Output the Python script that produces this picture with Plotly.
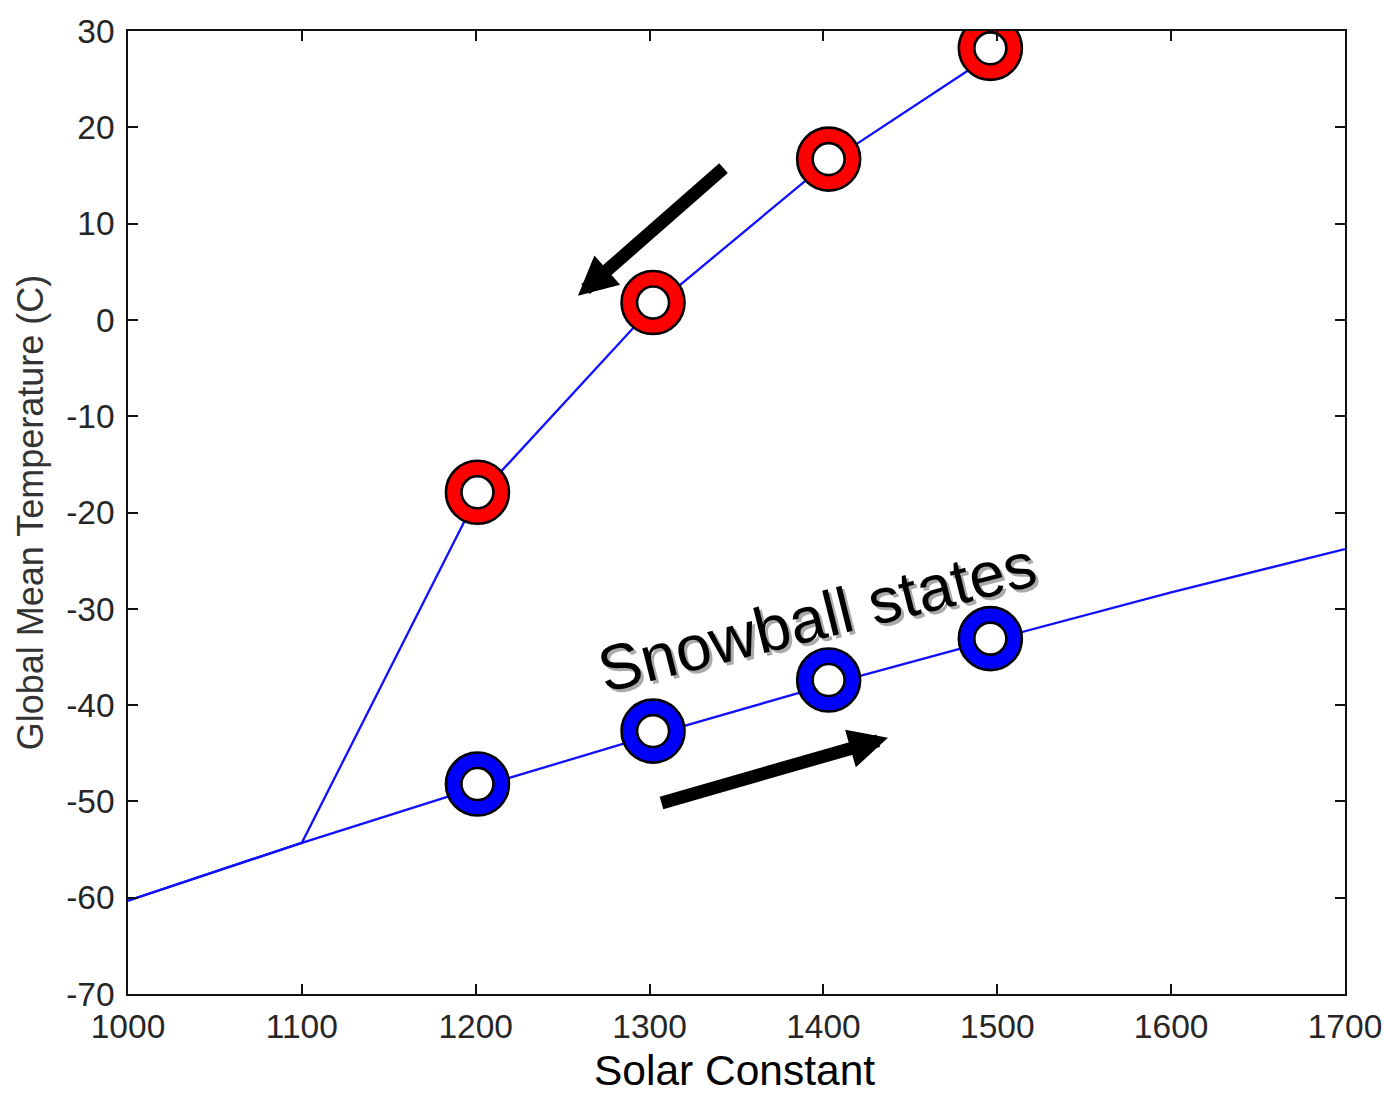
import plotly.graph_objects as go

# Energy-balance model: global mean temperature vs solar constant
solar_cold = [1000, 1100, 1200, 1300, 1400, 1500, 1600, 1700]
temp_cold = [-60.3, -54.3, -48.6, -43.2, -38.0, -33.1, -28.3, -23.8]

solar_warm = [1000, 1100, 1200, 1300, 1400, 1500]
temp_warm = [-60.3, -54.3, -18.6, 1.0, 16.0, 27.9]

# highlighted equilibrium states
warm_state_x = [1201, 1302, 1403, 1496]
warm_state_y = [-17.9, 1.8, 16.7, 28.2]
snow_state_x = [1201, 1302, 1403, 1496]
snow_state_y = [-48.2, -42.7, -37.4, -33.1]

x_ticks = [1000, 1100, 1200, 1300, 1400, 1500, 1600, 1700]
y_ticks = [30, 20, 10, 0, -10, -20, -30, -40, -50, -60, -70]

LINE_BLUE = "#1010ff"
FONT = "Liberation Sans, Arial, sans-serif"

fig = go.Figure()

fig.add_trace(go.Scatter(x=solar_cold, y=temp_cold, mode="lines",
                         line=dict(color=LINE_BLUE, width=2.3), hoverinfo="skip"))
fig.add_trace(go.Scatter(x=solar_warm, y=temp_warm, mode="lines",
                         line=dict(color=LINE_BLUE, width=2.3), hoverinfo="skip"))


def ring(xs, ys, color):
    # filled disc plus white hole gives a thick ring marker
    fig.add_trace(go.Scatter(x=xs, y=ys, mode="markers", hoverinfo="skip",
                             marker=dict(size=63, color=color,
                                         line=dict(color="black", width=2.6))))
    fig.add_trace(go.Scatter(x=xs, y=ys, mode="markers", hoverinfo="skip",
                             marker=dict(size=32, color="white",
                                         line=dict(color="black", width=2.6))))


ring(warm_state_x, warm_state_y, "#ff0000")
ring(snow_state_x, snow_state_y, "#0000ff")

# hysteresis arrows
arrow_common = dict(showarrow=True, arrowhead=2, arrowsize=0.6, arrowwidth=13,
                    arrowcolor="black", axref="x", ayref="y", text="", standoff=0)
fig.add_annotation(x=1258.8, y=2.5, ax=1343.4, ay=15.9, **arrow_common)
fig.add_annotation(x=1437.1, y=-43.4, ax=1306.0, ay=-50.2, **arrow_common)

# label with drop shadow
label_font = dict(family=FONT, size=64)
fig.add_annotation(x=1396.5, y=-30.9, text="Snowball states", showarrow=False,
                   textangle=-14, xshift=3, yshift=-3,
                   font=dict(color="#aaaaaa", **label_font))
fig.add_annotation(x=1396.5, y=-30.9, text="Snowball states", showarrow=False,
                   textangle=-14, font=dict(color="black", **label_font))

# x-axis title placed below the tick labels
fig.add_annotation(xref="paper", yref="paper", x=0.498, y=-0.079,
                   xanchor="center", yanchor="middle", showarrow=False,
                   text="Solar Constant", borderpad=0,
                   font=dict(family=FONT, size=42.5, color="black"))

axis_common = dict(showline=True, linecolor="#111111", linewidth=1.5, mirror="ticks",
                   ticks="inside", ticklen=10, tickwidth=1.5, tickcolor="#111111",
                   showgrid=False, zeroline=False, automargin=False,
                   tickfont=dict(family=FONT, size=33.5, color="#262626"))

fig.update_xaxes(range=[1000, 1700], tickvals=x_ticks,
                 ticktext=[str(v) for v in x_ticks], ticklabelstandoff=2,
                 **axis_common)
fig.update_yaxes(range=[-70, 30], tickvals=y_ticks,
                 ticktext=[str(v) for v in y_ticks], ticklabelstandoff=5,
                 title=dict(text="Global Mean Temperature (C)", standoff=12,
                            font=dict(family=FONT, size=36, color="#333333")),
                 **axis_common)

fig.update_layout(width=1384, height=1095, showlegend=False,
                  margin=dict(l=128, r=39, t=31, b=101),
                  paper_bgcolor="white", plot_bgcolor="white")

fig.write_html("out.html")
